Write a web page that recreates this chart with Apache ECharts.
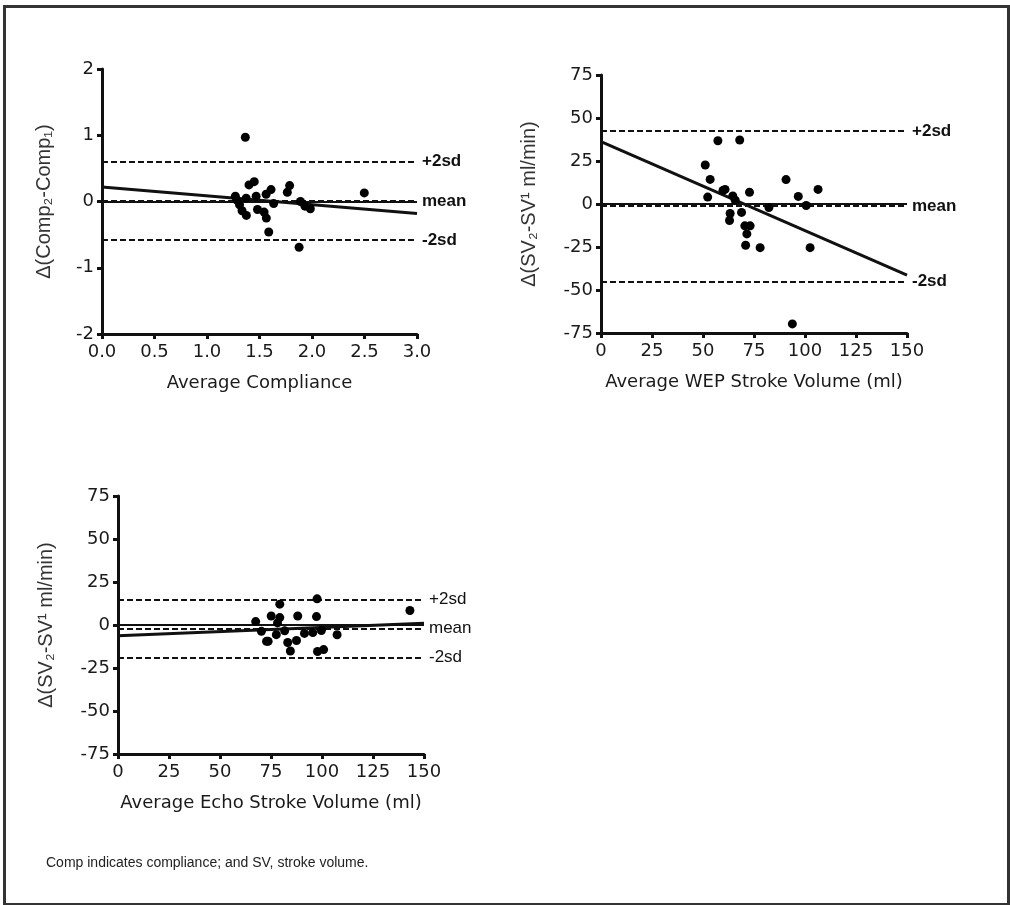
<!DOCTYPE html>
<html>
<head>
<meta charset="utf-8">
<script src="https://cdn.jsdelivr.net/npm/echarts@6/dist/echarts.min.js"></script>
<style>
html,body{margin:0;padding:0;background:#fff;}
#chart{width:1010px;height:905px;}
</style>
</head>
<body>
<div id="chart"></div>
<script>
// ---- Panel 1: compliance ----
var p1X = [1.365, 1.40, 1.45, 1.27, 1.285, 1.373, 1.468, 1.563, 1.61, 1.635, 1.765, 1.787, 1.89, 1.933, 1.984, 2.498, 1.31, 1.334, 1.375, 1.481, 1.544, 1.565, 1.588, 1.877];
var p1Y = [0.97, 0.25, 0.30, 0.08, 0.02, 0.05, 0.08, 0.11, 0.18, -0.03, 0.14, 0.24, 0.0, -0.07, -0.11, 0.13, -0.05, -0.14, -0.21, -0.12, -0.16, -0.25, -0.46, -0.69];
var p1RegX = [0, 3];
var p1RegY = [0.22, -0.18];
var p1Limits = [0.60, 0.01, -0.58];

// ---- Panel 2: WEP stroke volume ----
var p2X = [51.1, 53.5, 52.3, 57.3, 68.0, 59.8, 60.8, 64.6, 65.8, 63.3, 63.0, 68.9, 72.8, 70.5, 73.1, 71.5, 70.9, 78.0, 82.3, 90.7, 96.7, 100.6, 106.4, 102.5, 93.8];
var p2Y = [22.7, 14.3, 4.0, 36.8, 37.2, 7.9, 8.5, 4.7, 2.2, -5.5, -9.6, -4.9, 6.8, -12.7, -12.7, -17.4, -24.0, -25.4, -2.1, 14.2, 4.4, -0.9, 8.5, -25.4, -69.7];
var p2RegX = [0, 150];
var p2RegY = [36.2, -41.3];
var p2Limits = [42.4, -1.3, -45.1];

// ---- Panel 3: Echo stroke volume ----
var p3X = [67.5, 70.3, 72.8, 73.6, 75.1, 77.6, 78.2, 79.3, 79.3, 81.7, 83.2, 84.5, 87.5, 88.1, 91.4, 95.5, 97.3, 97.6, 97.8, 100.8, 99.7, 107.4, 143.1];
var p3Y = [2.0, -3.7, -9.5, -9.5, 5.2, -5.6, 1.2, 4.3, 12.1, -3.4, -10.2, -15.1, -9.0, 5.2, -4.9, -4.4, 4.9, 15.2, -15.4, -14.3, -3.2, -5.7, 8.4];
var p3RegX = [0, 150];
var p3RegY = [-6.3, 1.0];
var p3Limits = [14.8, -2.1, -18.8];

var limitNames = ['+2sd', 'mean', '-2sd'];
var xTitles = ['Average Compliance', 'Average WEP Stroke Volume (ml)', 'Average Echo Stroke Volume (ml)'];
var yTitles = ['\u0394(Comp\u2082-Comp\u2081)', '\u0394(SV\u2082-SV\u00b9 ml/min)', '\u0394(SV\u2082-SV\u00b9 ml/min)'];
var footnote = 'Comp indicates compliance; and SV, stroke volume.';

function zip(xs, ys) { return xs.map(function (x, i) { return [x, ys[i]]; }); }

var tickFont = 'DejaVu Sans';
var axisCol = '#111';
var textCol = '#1a1a1a';

function xAxisCfg(idx, min, max, interval, decimals) {
  return {
    type: 'value', gridIndex: idx, min: min, max: max, interval: interval,
    name: xTitles[idx], nameLocation: 'middle', nameGap: 40,
    nameTextStyle: { fontFamily: tickFont, fontSize: 18, color: textCol },
    axisLine: { show: true, onZero: false, lineStyle: { color: axisCol, width: 3 } },
    axisTick: { show: true, length: 5, lineStyle: { color: axisCol, width: 3 } },
    axisLabel: { fontFamily: tickFont, fontSize: 18, color: textCol, margin: 9,
      formatter: function (v) { return decimals ? v.toFixed(decimals) : String(v); } },
    splitLine: { show: false }
  };
}
function yAxisCfg(idx, min, max, interval, gap) {
  return {
    type: 'value', gridIndex: idx, min: min, max: max, interval: interval,
    name: yTitles[idx], nameLocation: 'middle', nameGap: gap, nameRotate: 90,
    nameTextStyle: { fontFamily: 'Liberation Sans', fontSize: 20, color: '#333' },
    axisLine: { show: true, onZero: false, lineStyle: { color: axisCol, width: 3 } },
    axisTick: { show: true, length: 5, lineStyle: { color: axisCol, width: 3 } },
    axisLabel: { fontFamily: tickFont, fontSize: 18, color: textCol, margin: 8 },
    splitLine: { show: false }
  };
}

function panelSeries(idx, xs, ys, regX, regY, limits, bold) {
  var lbl = { show: true, position: 'end', distance: 5, formatter: '{b}',
    fontFamily: 'Liberation Sans', fontSize: 17, fontWeight: bold ? 'bold' : 'normal', color: '#111' };
  var mlData = limits.map(function (v, i) {
    return { name: limitNames[i], yAxis: v,
      lineStyle: { type: [6, 3], width: 2, color: '#111' }, label: lbl };
  });
  mlData.unshift({ name: '', yAxis: 0,
    lineStyle: { type: 'solid', width: 2, color: '#111' }, label: { show: false } });
  return [
    {
      type: 'scatter', xAxisIndex: idx, yAxisIndex: idx,
      data: zip(xs, ys), symbol: 'circle', symbolSize: 9,
      itemStyle: { color: '#000', opacity: 1 }, z: 5,
      markLine: { silent: true, symbol: ['none', 'none'], animation: false, data: mlData }
    },
    {
      type: 'line', xAxisIndex: idx, yAxisIndex: idx,
      data: zip(regX, regY), showSymbol: false, symbol: 'none',
      lineStyle: { color: '#111', width: 3 }, z: 4
    }
  ];
}

var chart = echarts.init(document.getElementById('chart'), null, { renderer: 'canvas' });
chart.setOption({
  animation: false,
  backgroundColor: '#fff',
  grid: [
    { left: 102, top: 69, width: 315, height: 265 },
    { left: 601, top: 75, width: 306, height: 258 },
    { left: 118, top: 496, width: 306, height: 258 }
  ],
  xAxis: [
    xAxisCfg(0, 0, 3, 0.5, 1),
    xAxisCfg(1, 0, 150, 25, 0),
    xAxisCfg(2, 0, 150, 25, 0)
  ],
  yAxis: [
    yAxisCfg(0, -2, 2, 1, 48),
    yAxisCfg(1, -75, 75, 25, 62),
    yAxisCfg(2, -75, 75, 25, 62)
  ],
  series: [].concat(
    panelSeries(0, p1X, p1Y, p1RegX, p1RegY, p1Limits, true),
    panelSeries(1, p2X, p2Y, p2RegX, p2RegY, p2Limits, true),
    panelSeries(2, p3X, p3Y, p3RegX, p3RegY, p3Limits, false)
  ),
  graphic: [
    { type: 'rect', left: 2, top: 4, shape: { width: 1004, height: 898 },
      style: { fill: 'none', stroke: '#333', lineWidth: 3 }, silent: true },
    { type: 'text', left: 46, top: 856,
      style: { text: footnote, fontFamily: 'Liberation Sans', fontSize: 14, fill: '#222' } }
  ]
});
</script>
</body>
</html>
